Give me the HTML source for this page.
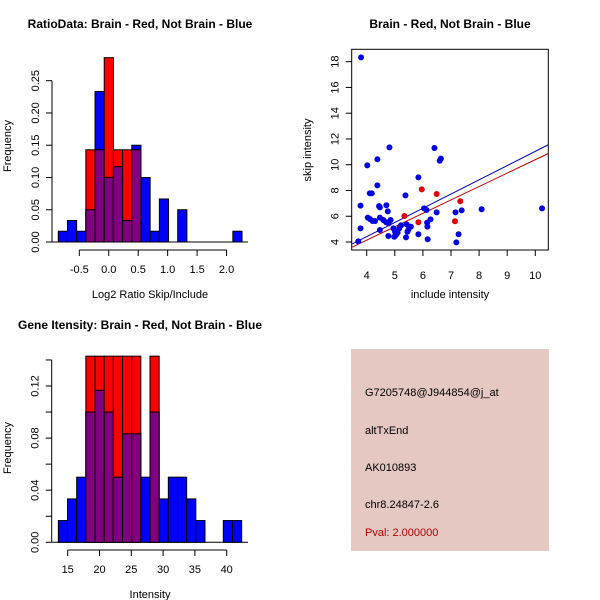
<!DOCTYPE html>
<html><head><meta charset="utf-8"><style>
body{margin:0;background:#fff}
svg{display:block;font-family:"Liberation Sans",sans-serif}
</style></head><body>
<svg id="s" width="600" height="600" xmlns="http://www.w3.org/2000/svg">
<rect width="600" height="600" fill="#fff"/>
<text x="140" y="28" font-size="12" font-weight="bold" text-anchor="middle">RatioData: Brain - Red, Not Brain - Blue</text>
<text x="450" y="28" font-size="12" font-weight="bold" text-anchor="middle">Brain - Red, Not Brain - Blue</text>
<text x="140" y="329" font-size="12" font-weight="bold" text-anchor="middle">Gene Itensity: Brain - Red, Not Brain - Blue</text>
<g id="p1"></g>
<g id="p2"></g>
<g id="p3"></g>
<g>
<rect x="351" y="349" width="198" height="202" fill="#e5c8c2"/>
<text x="365" y="396" font-size="11">G7205748@J944854@j_at</text>
<text x="365" y="434" font-size="11">altTxEnd</text>
<text x="365" y="471" font-size="11">AK010893</text>
<text x="365" y="508" font-size="11">chr8.24847-2.6</text>
<text x="365" y="536" font-size="11" fill="#b00000">Pval: 2.000000</text>
</g>
</svg>
<script>
// Ratio histogram data
const ratioStart = -0.857;
const ratioWidth = 0.156;
const ratioBlue = [0.0167,0.0333,0.0167,0.05,0.2333,0.1,0.1167,0.0333,0.15,0.1,0.0167,0.0667,0,0.05,0,0,0,0,0,0.0167];
const ratioRed = [0,0,0,0.1429,0.1429,0.2857,0.1429,0.1429,0.1429,0,0,0,0,0,0,0,0,0,0,0];
const ratioXTicks = [-0.5,0,0.5,1,1.5,2];
const ratioXLabels = ["-0.5","0.0","0.5","1.0","1.5","2.0"];
const ratioYTicks = [0,0.05,0.1,0.15,0.2,0.25];
const ratioYLabels = ["0.00","0.05","0.10","0.15","0.20","0.25"];
// Intensity histogram data
const intStart = 13.53;
const intWidth = 1.441;
const intBlue = [0.0167,0.0333,0.05,0.1,0.1167,0.1,0.05,0.0833,0.0833,0.05,0.1,0.0333,0.05,0.05,0.0333,0.0167,0,0,0.0167,0.0167];
const intRed = [0,0,0,0.1429,0.1429,0.1429,0.1429,0.1429,0.1429,0,0.1429,0,0,0,0,0,0,0,0,0];
const intXTicks = [15,20,25,30,35,40];
const intYTicks = [0,0.02,0.04,0.06,0.08,0.1,0.12,0.14];
const intYLabels = ["0.00","","0.04","","0.08","","0.12",""];
// Scatter data
const blueX = [3.80,3.78,3.78,3.70,4.02,4.38,4.38,4.11,4.18,4.04,4.12,4.21,4.30,4.44,4.47,4.47,4.47,4.81,4.70,4.75,4.59,4.69,4.78,4.85,4.77,4.95,5.01,5.04,4.98,5.10,5.16,5.22,5.38,5.42,5.45,5.40,5.49,5.57,5.84,5.84,6.04,6.13,6.15,6.16,6.17,6.27,6.41,6.49,6.60,6.64,7.16,7.27,7.19,7.38,8.09,10.24];
const blueY = [18.33,6.82,5.06,4.05,9.95,10.42,8.40,7.78,7.78,5.89,5.78,5.63,5.63,6.79,6.69,5.89,4.93,11.35,6.85,6.38,5.71,5.53,5.45,5.71,4.47,5.06,4.80,4.54,4.41,4.72,5.06,5.29,7.62,5.37,4.80,4.36,4.98,5.19,9.02,4.60,6.61,6.48,5.50,5.19,4.21,5.76,11.30,6.30,10.31,10.47,6.30,4.60,3.97,6.46,6.54,6.61];
const redX = [5.34,5.84,5.96,6.49,7.14,7.33];
const redY = [6.02,5.53,8.09,7.73,5.61,7.16];
const fitBlue = [0.0, 1.104];
const fitRed = [-0.02, 1.041];
const scXTicks = [4,5,6,7,8,9,10];
const scYTicks = [4,6,8,10,12,14,16,18];

const NS="http://www.w3.org/2000/svg";
function mk(parent,tag,attrs){const e=document.createElementNS(NS,tag);for(const k in attrs)e.setAttribute(k,attrs[k]);parent.appendChild(e);return e;}
function txt(parent,x,y,s,extra){const t=mk(parent,'text',Object.assign({x:x,y:y,'font-size':11,'text-anchor':'middle'},extra||{}));t.textContent=s;return t;}

function hist(g,start,width,blue,red,sx,sy){
  for(let i=0;i<blue.length;i++){
    const x0=sx(start+i*width),x1=sx(start+(i+1)*width);
    if(blue[i]>0){const r=mk(g,'rect',{x:x0,y:sy(blue[i]),width:x1-x0,height:sy(0)-sy(blue[i]),fill:'#0000ff',stroke:'#000','stroke-width':1});
      
      }
    if(red[i]>0){const r=mk(g,'rect',{x:x0,y:sy(red[i]),width:x1-x0,height:sy(0)-sy(red[i]),fill:'#ff0000',stroke:'#000','stroke-width':1});
      
      }
    const m=Math.min(blue[i],red[i]);
    if(m>0){const r=mk(g,'rect',{x:x0,y:sy(m),width:x1-x0,height:sy(0)-sy(m),fill:'#800080',stroke:'#000','stroke-width':1});
      
      }
  }
}
function yaxis(g,x,ticks,labels,sy){
  const ax=mk(g,'line',{x1:x,x2:x,y1:sy(ticks[0]),y2:sy(ticks[ticks.length-1]),stroke:'#000'});
  
  
  ticks.forEach((t,i)=>{mk(g,'line',{x1:x-6,x2:x,y1:sy(t),y2:sy(t),stroke:'#000'});
    if(labels[i]!==''){const l=txt(g,0,0,labels[i],{transform:`translate(${x-13},${sy(t)}) rotate(-90)`});
      
      }});
}
function xaxis(g,y,ticks,labels,sx){
  const ax=mk(g,'line',{x1:sx(ticks[0]),x2:sx(ticks[ticks.length-1]),y1:y,y2:y,stroke:'#000'});
  
  
  ticks.forEach((t,i)=>{mk(g,'line',{x1:sx(t),x2:sx(t),y1:y,y2:y+6,stroke:'#000'});
    const l=txt(g,sx(t),y+23,labels[i]);
    
    });
}

// Panel 1
(function(){
  const g=document.getElementById('p1');
  const sx=v=>79.3+(v+0.5)*58.9, sy=v=>242-v*645.2;
  mk(g,'line',{x1:52,x2:248,y1:242,y2:242,stroke:'#000'});
  hist(g,ratioStart,ratioWidth,ratioBlue,ratioRed,sx,sy);
  yaxis(g,52,ratioYTicks,ratioYLabels,sy);
  xaxis(g,250,ratioXTicks,ratioXLabels,sx);
  const xt=txt(g,150,298,'Log2 Ratio Skip/Include');
  
  
  const yt=txt(g,0,0,'Frequency',{transform:'translate(11,146) rotate(-90)'});
  
  
})();

// Panel 3
(function(){
  const g=document.getElementById('p3');
  const sx=v=>67.7+(v-15)*6.36, sy=v=>542.3-v*1302.5;
  mk(g,'line',{x1:52,x2:248,y1:542.3,y2:542.3,stroke:'#000'});
  hist(g,intStart,intWidth,intBlue,intRed,sx,sy);
  yaxis(g,51.7,intYTicks,intYLabels,sy);
  xaxis(g,550,intXTicks,intXTicks.map(String),sx);
  const xt=txt(g,150,598,'Intensity');
  
  
  const yt=txt(g,0,0,'Frequency',{transform:'translate(11,448) rotate(-90)'});
  
  
})();

// Panel 2
(function(){
  const g=document.getElementById('p2');
  const sx=v=>366.7+(v-4)*28.1, sy=v=>242-(v-4)*12.88;
  const L=351.7,R=548.3,T=49.3,B=250;
  const clip=mk(g,'clipPath',{id:'sc'});mk(clip,'rect',{x:L,y:T,width:R-L,height:B-T});
  const b=mk(g,'rect',{x:L,y:T,width:R-L,height:B-T,fill:'none',stroke:'#000'});
  
  
  const x0=(L-366.7)/28.1+4,x1=(R-366.7)/28.1+4;
  [[fitBlue,'#0000b0','blue-fit-line'],[fitRed,'#c00000','red-fit-line']].forEach(([f,c,n])=>{
    const l=mk(g,'line',{x1:sx(x0),x2:sx(x1),y1:sy(f[0]+f[1]*x0),y2:sy(f[0]+f[1]*x1),stroke:c,'stroke-width':1,'clip-path':'url(#sc)'});
    
    
  });
  blueX.forEach((x,i)=>{const c=mk(g,'circle',{cx:sx(x),cy:sy(blueY[i]),r:3,fill:'#0000e0'});
    
    });
  redX.forEach((x,i)=>{const c=mk(g,'circle',{cx:sx(x),cy:sy(redY[i]),r:3,fill:'#e00000'});
    
    });
  scXTicks.forEach(t=>{mk(g,'line',{x1:sx(t),x2:sx(t),y1:B,y2:B+6,stroke:'#000'});
    const l=txt(g,sx(t),B+29,String(t));
    
    });
  scYTicks.forEach(t=>{mk(g,'line',{x1:L-6,x2:L,y1:sy(t),y2:sy(t),stroke:'#000'});
    const l=txt(g,0,0,String(t),{transform:`translate(${L-13},${sy(t)}) rotate(-90)`});
    
    });
  const xt=txt(g,450,298,'include intensity');
  
  
  const yt=txt(g,0,0,'skip intensity',{transform:'translate(311,150) rotate(-90)'});
  
  
})();
</script>
</body></html>
